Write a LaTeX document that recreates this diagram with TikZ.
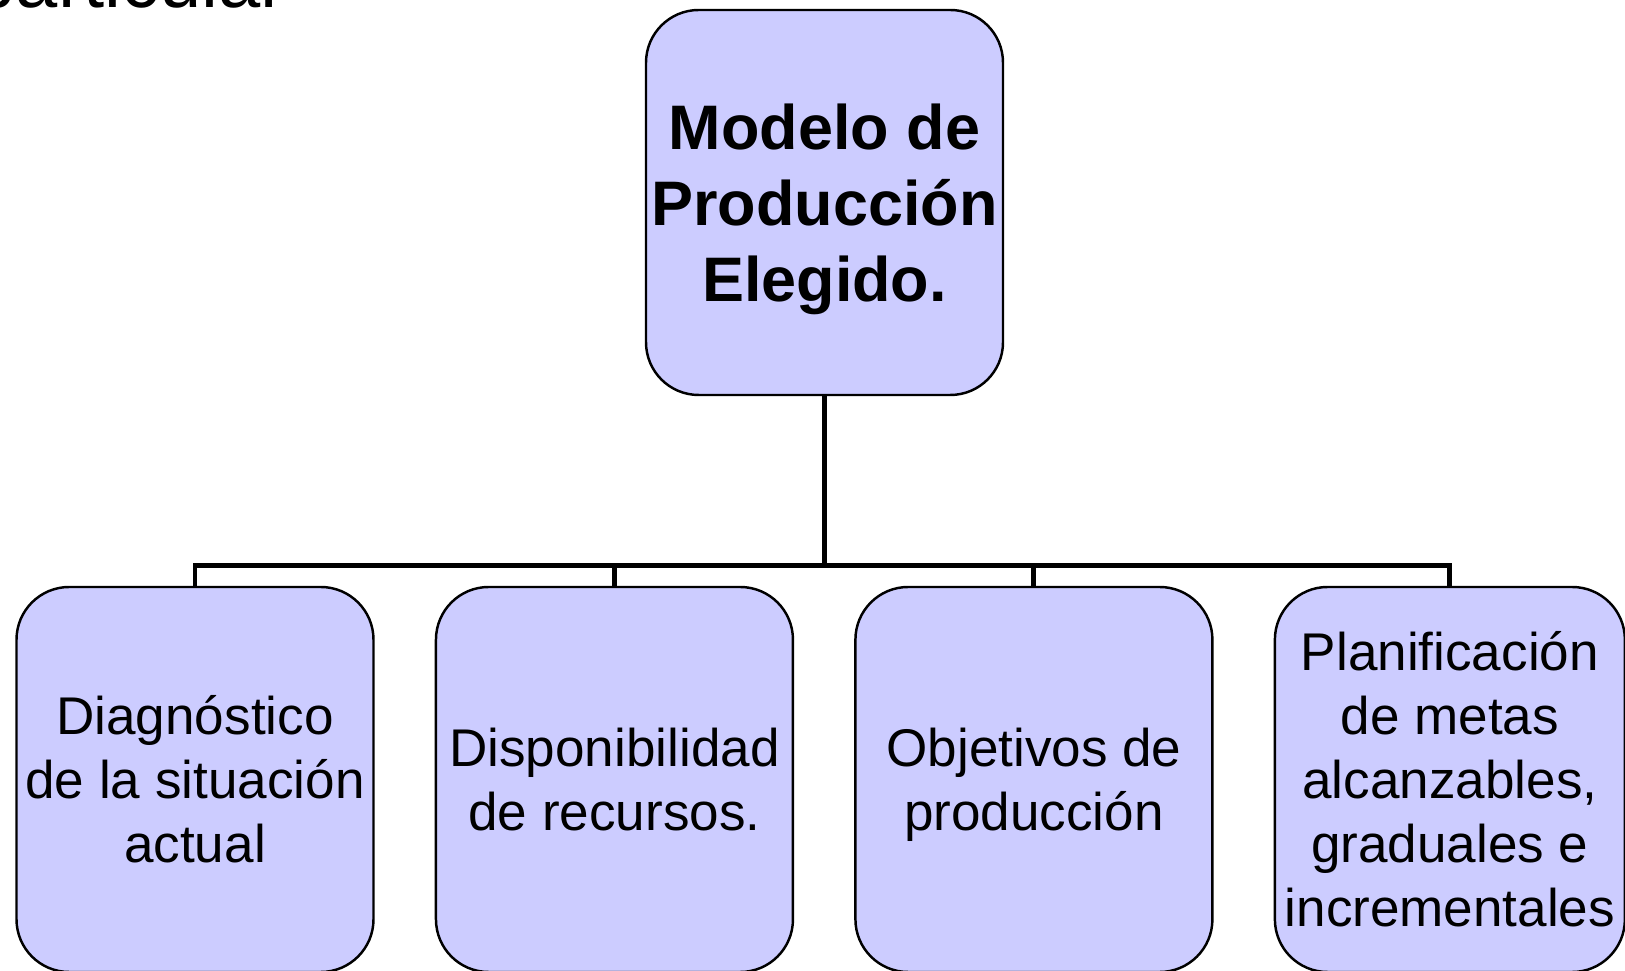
\documentclass[tikz,border=0pt]{standalone}
\usepackage{fontspec}
\setmainfont{Liberation Sans}
\usetikzlibrary{positioning}
\definecolor{boxlav}{HTML}{CCCCFF}

\begin{document}
\begin{tikzpicture}[
      every node/.style={font=\fontsize{15.1}{18.2}\selectfont},
      root/.style={draw, line width=0.7pt, rounded corners=15pt, fill=boxlav,
                   minimum width=3.57cm, minimum height=3.85cm, inner xsep=1pt,
                   align=center, font=\fontsize{17.9}{21.6}\selectfont\bfseries},
      leaf/.style={draw, line width=0.7pt, rounded corners=15pt, fill=boxlav,
                   minimum width=3.57cm, minimum height=3.85cm, inner xsep=2pt,
                   align=center},
      link/.style={line width=1.4pt},
    ]
    \useasboundingbox (0,0) rectangle (16.25,-9.71);
    \clip (0,0) rectangle (16.25,-9.71);

    % Title fragment (cut by the page edge)
    \node[anchor=base west, inner sep=0pt, font=\fontsize{21.6}{26}\selectfont]
      (titulo) at (-0.27,-0.08) {particular};

    % Nodes
    \node[root] (modelo) at (8.245,-2.025) {Modelo de\\Producción\\\smash{Elegido.}};
    \node[leaf] (diag) at (1.95,-7.795) {Diagnóstico\\de la situación\\actual};
    \node[leaf, right=0.6cm of diag] (disp) {Disponibilidad\\de recursos.};
    \node[leaf, right=0.6cm of disp] (obj)  {Objetivos de\\\smash{producción}};
    \node[leaf, right=0.6cm of obj, minimum width=3.5cm] (plan)
      {Planificación\\de metas\\alcanzables,\\graduales e\\incrementales};

    % Tree lines
    \coordinate[below=1.69cm of modelo] (bar);
    \draw[link] (modelo) -- (bar);
    \foreach \n in {diag, disp, obj, plan}
      \draw[link] (bar) -| (\n.north);
  \end{tikzpicture}
\end{document}
